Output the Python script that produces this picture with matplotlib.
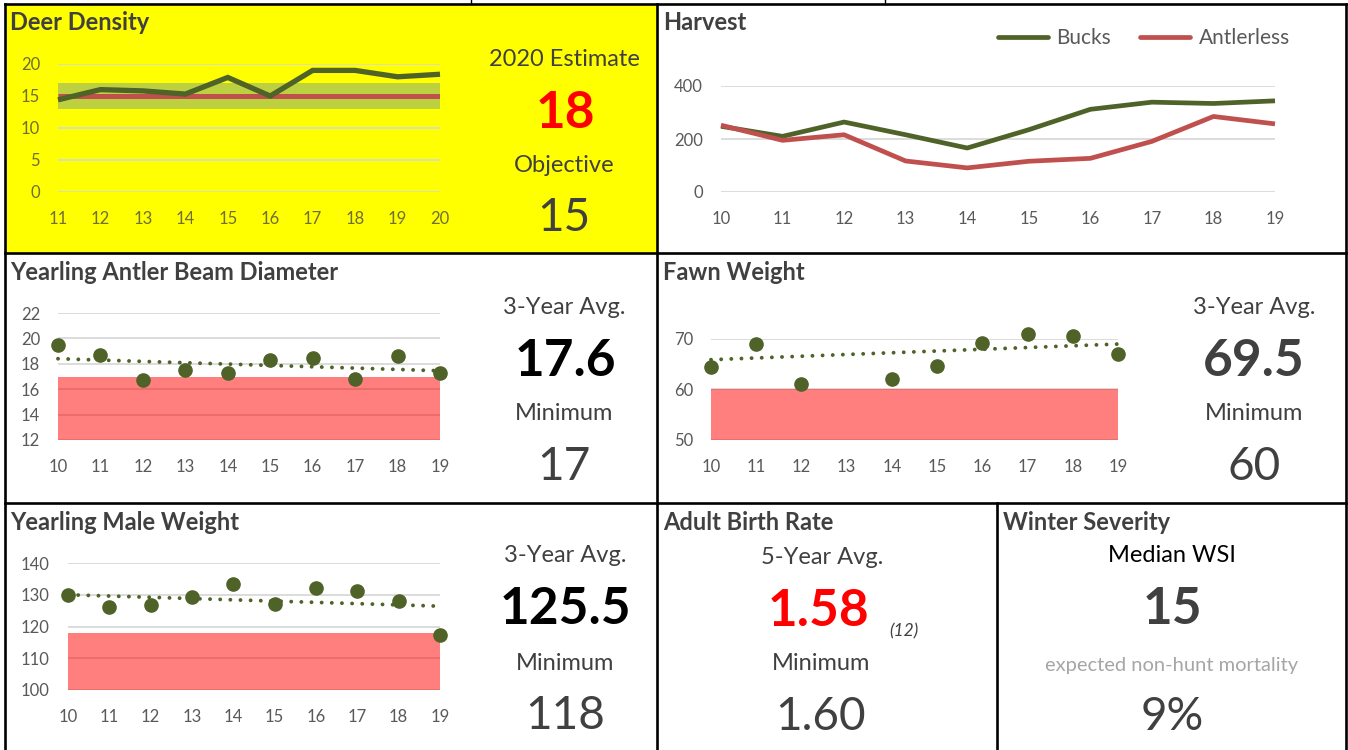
import numpy as np
import matplotlib
matplotlib.use("Agg")
import matplotlib.pyplot as plt
from matplotlib.patches import Rectangle

plt.rcParams['font.family'] = ['Lato', 'DejaVu Sans']

# ---------------- data ----------------
density_years = [11, 12, 13, 14, 15, 16, 17, 18, 19, 20]
density = [14.4, 16.0, 15.8, 15.3, 17.9, 15.0, 19.0, 19.0, 18.0, 18.4]
density_objective = 15
density_band = (13, 17)

harvest_years = [10, 11, 12, 13, 14, 15, 16, 17, 18, 19]
bucks = [248, 210, 264, 216, 166, 235, 312, 339, 334, 344]
antlerless = [252, 195, 216, 117, 91, 116, 127, 191, 285, 257]

years = [10, 11, 12, 13, 14, 15, 16, 17, 18, 19]
beam_diameter = [19.5, 18.7, 16.7, 17.55, 17.25, 18.26, 18.47, 16.8, 18.6, 17.3]
beam_trend = (18.4, 17.45)          # linear trend at first and last year
beam_minimum = 17

fawn_weight = [64.4, 69.0, 61.1, np.nan, 62.0, 64.6, 69.2, 71.0, 70.6, 67.0]
fawn_trend = (65.9, 69.0)
fawn_minimum = 60

male_weight = [130.0, 126.0, 126.8, 129.3, 133.5, 127.2, 132.2, 131.2, 128.0, 117.4]
male_trend = (130.0, 126.4)
male_minimum = 118

birth_rate_avg = "1.58"
birth_rate_n = "(12)"
birth_rate_min = "1.60"
median_wsi = "15"
nonhunt_mortality = "9%"

# ---------------- style ----------------
W, H = 1348, 750
OLIVE = '#4F6228'
BRICK = '#C0504D'
GRID = '#D9D9D9'
TICK = '#595959'
DARK = '#404040'
CAPTION = 17
BIG = 37
NUM = 33

fig = plt.figure(figsize=(W / 100, H / 100), dpi=100)
bg = fig.add_axes([0, 0, 1, 1], zorder=-5)
bg.set_xlim(0, W)
bg.set_ylim(H, 0)
bg.axis('off')

# panel background and borders
bg.add_patch(Rectangle((5, 4), 652, 249, facecolor='#FFFF00', edgecolor='none'))
border = dict(color='black', lw=1.9, solid_capstyle='projecting')
bg.plot([5, 1346], [4, 4], **border)
bg.plot([5, 1346], [253, 253], **border)
bg.plot([5, 1346], [503, 503], **border)
bg.plot([5, 5], [4, 750], **border)
bg.plot([657, 657], [4, 750], **border)
bg.plot([1346, 1346], [4, 750], **border)
bg.plot([997, 997], [503, 750], **border)
bg.plot([471, 471], [0, 4], color='black', lw=1.0)
bg.plot([885, 885], [0, 4], color='black', lw=1.0)


def add_ax(x0, x1, ytop, ybot):
    ax = fig.add_axes([x0 / W, 1 - ybot / H, (x1 - x0) / W, (ybot - ytop) / H])
    ax.patch.set_alpha(0)
    for s in ax.spines.values():
        s.set_visible(False)
    ax.tick_params(length=0, labelsize=12, labelcolor=TICK, pad=13)
    ax.tick_params(axis='x', pad=14)
    ax.yaxis.grid(True, color=GRID, lw=1.3)
    ax.set_axisbelow(True)
    return ax


def title(x, y, s):
    bg.text(x, y, s, fontsize=17, fontweight='bold', color=DARK, ha='left', va='center')


def label(x, y, s, size=CAPTION, color=DARK, weight='normal', style='normal'):
    bg.text(x, y, s, fontsize=size, color=color, fontweight=weight, style=style,
            ha='center', va='center')


def trend(ax, xs, ends):
    ax.plot([xs[0], xs[-1]], list(ends), color=OLIVE, lw=2.8, linestyle=(0, (0.01, 2.6)),
            dash_capstyle='round', clip_on=False, zorder=3)


# ---------------- Deer Density ----------------
title(10, 23, "Deer Density")
ax = add_ax(58, 440, 64, 192)
ax.set_xlim(11, 20)
ax.set_ylim(0, 20)
ax.set_yticks([0, 5, 10, 15, 20])
ax.set_xticks(density_years)
ax.tick_params(labelcolor='#6E6E35')
ax.fill_between(density_years, density_band[0], density_band[1], color='#BDD140', lw=0, zorder=2)
ax.plot(density_years, [density_objective] * len(density_years), color=BRICK, lw=3.6,
        solid_capstyle='butt', zorder=3)
ax.plot(density_years, density, color=OLIVE, lw=3.8, solid_capstyle='butt',
        solid_joinstyle='miter', clip_on=False, zorder=4)
label(564, 59, "2020 Estimate")
label(565, 113, f"{density[-1]:.0f}", size=BIG, color='#FF0000', weight='bold')
label(564, 166, "Objective")
label(564, 218, f"{density_objective}", size=NUM)

# ---------------- Harvest ----------------
title(663, 23, "Harvest")
ax = add_ax(721, 1275, 86, 192)
ax.set_xlim(10, 19)
ax.set_ylim(0, 400)
ax.set_yticks([0, 200, 400])
ax.set_xticks(harvest_years)
ax.plot(harvest_years, bucks, color=OLIVE, lw=3.4, label='Bucks', clip_on=False,
        solid_capstyle='butt')
ax.plot(harvest_years, antlerless, color=BRICK, lw=3.4, label='Antlerless', clip_on=False,
        solid_capstyle='butt')
leg = fig.legend(loc='center', bbox_to_anchor=(1144 / W, 1 - 38 / H), ncol=2, frameon=False,
                 fontsize=15, handlelength=2.4, handletextpad=0.4, columnspacing=1.4,
                 labelcolor=TICK)
for ln in leg.get_lines():
    ln.set_solid_capstyle('round')

# ---------------- Yearling Antler Beam Diameter ----------------
title(10, 272, "Yearling Antler Beam Diameter")
ax = add_ax(58, 440, 313, 440)
ax.set_xlim(10, 19)
ax.set_ylim(12, 22)
ax.set_yticks([12, 14, 16, 18, 20, 22])
ax.set_xticks(years)
ax.fill_between(years, 12, beam_minimum, color='#FF0000', alpha=0.5, lw=0, zorder=1.5)
trend(ax, years, beam_trend)
ax.plot(years, beam_diameter, 'o', color=OLIVE, ms=9.5, clip_on=False, zorder=4)
label(564, 308, "3-Year Avg.")
label(565, 362, f"{np.mean(beam_diameter[-3:]):.1f}", size=BIG, color='black', weight='bold')
label(564, 414, "Minimum")
label(564, 467, f"{beam_minimum}", size=NUM)

# ---------------- Fawn Weight ----------------
title(663, 272, "Fawn Weight")
ax = add_ax(711, 1118, 339, 440)
ax.set_xlim(10, 19)
ax.set_ylim(50, 70)
ax.set_yticks([50, 60, 70])
ax.set_xticks(years)
ax.fill_between(years, 50, fawn_minimum, color='#FF0000', alpha=0.5, lw=0, zorder=1.5)
trend(ax, years, fawn_trend)
ax.plot(years, fawn_weight, 'o', color=OLIVE, ms=9.5, clip_on=False, zorder=4)
label(1254, 308, "3-Year Avg.")
label(1254, 362, f"{np.mean(fawn_weight[-3:]):.1f}", size=BIG, color=DARK, weight='bold')
label(1254, 414, "Minimum")
label(1254, 467, f"{fawn_minimum}", size=NUM)

# ---------------- Yearling Male Weight ----------------
title(10, 522, "Yearling Male Weight")
ax = add_ax(68, 440, 563, 690)
ax.set_xlim(10, 19)
ax.set_ylim(100, 140)
ax.set_yticks([100, 110, 120, 130, 140])
ax.set_xticks(years)
ax.fill_between(years, 100, male_minimum, color='#FF0000', alpha=0.5, lw=0, zorder=1.5)
trend(ax, years, male_trend)
ax.plot(years, male_weight, 'o', color=OLIVE, ms=9.5, clip_on=False, zorder=4)
label(565, 556, "3-Year Avg.")
label(565, 610, f"{np.mean(male_weight[-3:]):.1f}", size=BIG, color='black', weight='bold')
label(565, 663, "Minimum")
label(565, 716, f"{male_minimum}", size=NUM)

# ---------------- Adult Birth Rate ----------------
title(663, 522, "Adult Birth Rate")
label(822, 557, "5-Year Avg.")
label(818, 612, birth_rate_avg, size=BIG, color='#FF0000', weight='bold')
label(904, 631, birth_rate_n, size=12.5, style='italic')
label(821, 663, "Minimum")
label(821, 717, birth_rate_min, size=NUM)

# ---------------- Winter Severity ----------------
title(1003, 522, "Winter Severity")
label(1172, 556, "Median WSI", color='black')
label(1172, 610, median_wsi, size=BIG, weight='bold')
label(1172, 665, "expected non-hunt mortality", size=14.5, color='#A6A6A6')
label(1172, 717, nonhunt_mortality, size=NUM)

fig.savefig('out.png', dpi=100)
